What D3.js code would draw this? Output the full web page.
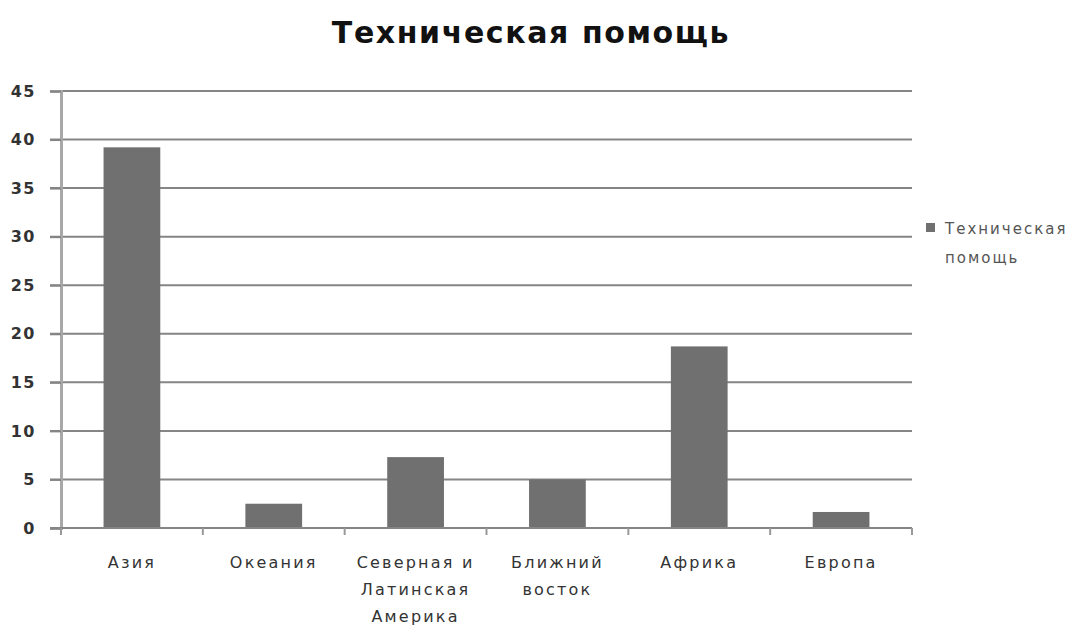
<!DOCTYPE html>
<html><head><meta charset="utf-8">
<script src="https://cdn.jsdelivr.net/npm/d3@7"></script>
<style>body{margin:0;background:#fff;} text{font-family:"DejaVu Sans",sans-serif;}</style>
</head><body>
<svg id="c" width="1075" height="625"></svg>
<script>
const categories = [["Азия"],["Океания"],["Северная и","Латинская","Америка"],["Ближний","восток"],["Африка"],["Европа"]];
const values = [39.2, 2.5, 7.3, 5.0, 18.7, 1.65];
const yTicks = [0,5,10,15,20,25,30,35,40,45];
const title = "Техническая помощь";
const legendLines = ["Техническая","помощь"];

const svg = d3.select("#c");
const m = {l:61, r:912, t:91, b:528};
const ids = categories.map((d,i)=>i);
const x = d3.scaleBand().domain(ids).range([m.l, m.r]).paddingInner(0).paddingOuter(0);
const y = d3.scaleLinear().domain([0,45]).range([m.b, m.t]);
const grey = "#707070";

svg.append("text").attr("x",531).attr("y",43).attr("text-anchor","middle")
  .attr("font-size",30).attr("font-weight","bold").attr("fill","#111").attr("letter-spacing",1.6).text(title);

// gridlines
svg.append("g").selectAll("line").data(yTicks.filter(d=>d>0)).join("line")
  .attr("x1",50).attr("x2",m.r).attr("y1",d=>y(d)).attr("y2",d=>y(d))
  .attr("stroke","#858585").attr("stroke-width",2);

// y axis
const ya = svg.append("g").attr("transform",`translate(${m.l},0)`)
  .call(d3.axisLeft(y).tickValues(yTicks).tickSize(11).tickPadding(14));
ya.select(".domain").attr("stroke","#a8a8a8").attr("stroke-width",3);
ya.selectAll(".tick line").attr("stroke","#858585").attr("stroke-width",2);
ya.selectAll(".tick text").attr("font-size",16).attr("font-weight","bold").attr("fill","#333")
  .attr("letter-spacing",1.5).attr("font-family","DejaVu Sans, sans-serif");

// bars
svg.append("g").selectAll("rect").data(values).join("rect")
  .attr("x",(d,i)=>x(i)+x.bandwidth()*0.3).attr("width",x.bandwidth()*0.4)
  .attr("y",d=>y(d)).attr("height",d=>y(0)-y(d)).attr("fill",grey);

// x axis
const xa = svg.append("g").attr("transform",`translate(0,${m.b})`);
xa.append("line").attr("x1",50).attr("x2",m.r).attr("stroke","#858585").attr("stroke-width",2);
xa.selectAll(".tk").data(d3.range(categories.length+1)).join("line").attr("class","tk")
  .attr("x1",i=>i<categories.length?x(i):m.r).attr("x2",i=>i<categories.length?x(i):m.r)
  .attr("y1",0).attr("y2",7).attr("stroke","#999").attr("stroke-width",2);
const lbl = xa.selectAll(".lb").data(categories).join("text").attr("class","lb")
  .attr("text-anchor","middle").attr("font-size",16).attr("fill","#333").attr("letter-spacing",2.2)
  .attr("transform",(d,i)=>`translate(${x(i)+x.bandwidth()/2},0)`);
lbl.selectAll("tspan").data(d=>d).join("tspan").attr("x",0).attr("y",(d,j)=>40+j*27).text(d=>d);

// legend
svg.append("rect").attr("x",926).attr("y",223).attr("width",9).attr("height",9).attr("fill",grey);
svg.append("g").selectAll("text").data(legendLines).join("text")
  .attr("x",945).attr("y",(d,i)=>234+i*29).attr("font-size",15).attr("fill","#555")
  .attr("letter-spacing",2).text(d=>d);
</script>
</body></html>
